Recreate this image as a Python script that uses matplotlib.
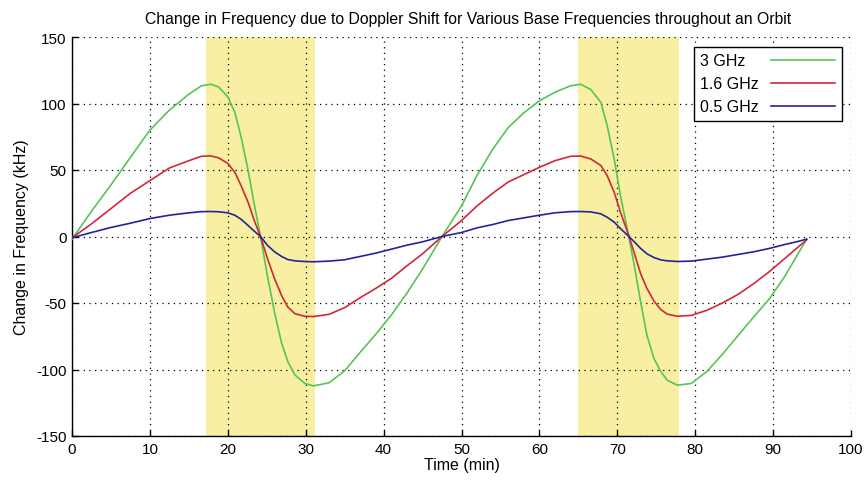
import matplotlib
matplotlib.use("Agg")
import matplotlib.pyplot as plt
from matplotlib import font_manager

# ---------------- data ----------------
time_min = [0, 2.5, 5, 7.5, 10, 12.5, 15, 16.6, 17.8, 18.8, 20, 20.9, 21.7, 22.6,
            23.4, 24.2, 25.1, 26.0, 26.9, 27.7, 28.6, 29.9, 31.0, 33, 35, 37, 39,
            41, 43, 45, 47.5, 50, 52, 54, 56, 58, 60, 62,
            64.0, 65.3, 66.6, 67.9, 68.7, 69.6, 70.4, 71.4, 72.1, 73.0, 73.8, 74.7,
            75.6, 76.4, 77.7, 79.5, 81.5, 83.5, 85.5, 87.5, 89.5, 91.5, 93.0, 94.3]

shift_3ghz = [-2, 19, 38.8, 59.5, 80, 95, 107, 113.3, 114.5, 112.5, 105, 93.5, 75, 50,
              24, 0, -30, -57, -80, -94, -104, -110.5, -112.3, -110, -101, -87, -73.5,
              -59, -42.5, -24.5, 0, 23, 46, 65.5, 82, 93, 102, 108.5,
              113.3, 114.5, 110.5, 100.8, 83.3, 58.3, 30.8, 2, -19.2, -49.2, -74.2, -91.7,
              -101.7, -108, -111.8, -110.5, -101.5, -88.5, -74.5, -60.5, -47, -30, -15, -2]

shift_1_6ghz = [-1, 9.5, 21, 32.5, 42, 51.5, 57, 60.3, 60.6, 59.2, 55, 48.3, 38.3, 25.8,
                12, 0, -16.7, -31.7, -44.3, -53, -58, -60, -60.2, -58.5, -53.5, -46, -39,
                -31.5, -22, -13, 0, 12, 23, 32.5, 41, 46.5, 52, 57,
                60.3, 60.5, 58.3, 53.3, 45.8, 33.3, 18.3, 2, -11, -28, -39, -48.5,
                -55, -58.3, -60, -59.3, -55.5, -50, -43.5, -35.5, -26.5, -16.5, -9, -2.5]

shift_0_5ghz = [-1, 3, 6.8, 10, 13.5, 16, 17.8, 18.7, 18.8, 18.6, 17.8, 16, 13, 8.3,
                4, 0, -6.7, -11.5, -15, -17.3, -18.3, -18.8, -19, -18.5, -17.5, -15, -12.5,
                -9.5, -6.5, -4, 0, 3, 6.5, 9, 12, 14, 16, 17.8,
                18.7, 18.8, 18.5, 17, 14.5, 10.8, 6, 0.5, -3.5, -9, -13, -15.8,
                -17.6, -18.3, -18.8, -18.5, -17, -15.5, -13.5, -11.5, -9, -6, -4, -2]

series_labels = ["3 GHz", "1.6 GHz", "0.5 GHz"]
series_colors = ["#55c555", "#d0283a", "#24249a"]

pass_windows = [(17.2, 31.2), (65.0, 77.9)]

x_ticks = [0, 10, 20, 30, 40, 50, 60, 70, 80, 90, 100]
y_ticks = [-150, -100, -50, 0, 50, 100, 150]

# ---------------- fonts ----------------
available = {f.name for f in font_manager.fontManager.ttflist}
fam = [f for f in ["Liberation Sans Narrow", "Liberation Sans", "DejaVu Sans"] if f in available]
plt.rcParams["font.family"] = fam
plt.rcParams["axes.unicode_minus"] = False

# ---------------- figure ----------------
fig = plt.figure(figsize=(8.66, 4.85), dpi=100)
ax = fig.add_axes([72 / 866, (485 - 437) / 485, 779 / 866, 399 / 485])

for (a, b) in pass_windows:
    ax.axvspan(a, b, color="#f8efa2", lw=0, zorder=0)

for vals, lab, col in zip([shift_3ghz, shift_1_6ghz, shift_0_5ghz], series_labels, series_colors):
    ax.plot(time_min, vals, color=col, lw=1.2, label=lab, zorder=3)

ax.set_xlim(0, 100)
ax.set_ylim(-150, 150)
ax.set_xticks(x_ticks)
ax.set_yticks(y_ticks)

ax.grid(True, color="black", linestyle=(0, (1, 3.5)), linewidth=0.9)
ax.set_axisbelow(False)
for s in ["top", "right"]:
    ax.spines[s].set_visible(False)
for s in ["left", "bottom"]:
    ax.spines[s].set_linewidth(1.0)

ax.tick_params(direction="in", length=4, width=1, labelsize=11, pad=4)

ttl = ax.set_title("Change in Frequency due to Doppler Shift for Various Base Frequencies throughout an Orbit",
                   fontsize=11.3, pad=10)
ttl.set_x(0.508)
ax.set_xlabel("Time (min)", fontsize=11.5, labelpad=1)
ax.set_ylabel("Change in Frequency (kHz)", fontsize=11.5, labelpad=5)

leg_fs = 11.5
leg = ax.legend(loc="upper right", bbox_to_anchor=(0.988, 0.975), borderaxespad=0,
                markerfirst=False, fontsize=leg_fs, handlelength=4.0, handletextpad=0.8,
                labelspacing=0.5, borderpad=0.4, fancybox=False, framealpha=1,
                edgecolor="black")
leg.get_frame().set_linewidth(1.0)

# left-align legend texts while keeping sample lines aligned on the right
try:
    renderer = fig.canvas.get_renderer()
    texts = leg.get_texts()
    widths = [t.get_window_extent(renderer).width for t in texts]
    wmax = max(widths)
    base_sep = 0.8 * leg_fs
    entries = []
    for col in leg._legend_handle_box.get_children():
        entries.extend(col.get_children())
    for hp, w in zip(entries, widths):
        hp.sep = base_sep + (wmax - w) * 72.0 / fig.dpi
except Exception:
    pass

fig.savefig("out.png", dpi=100)
